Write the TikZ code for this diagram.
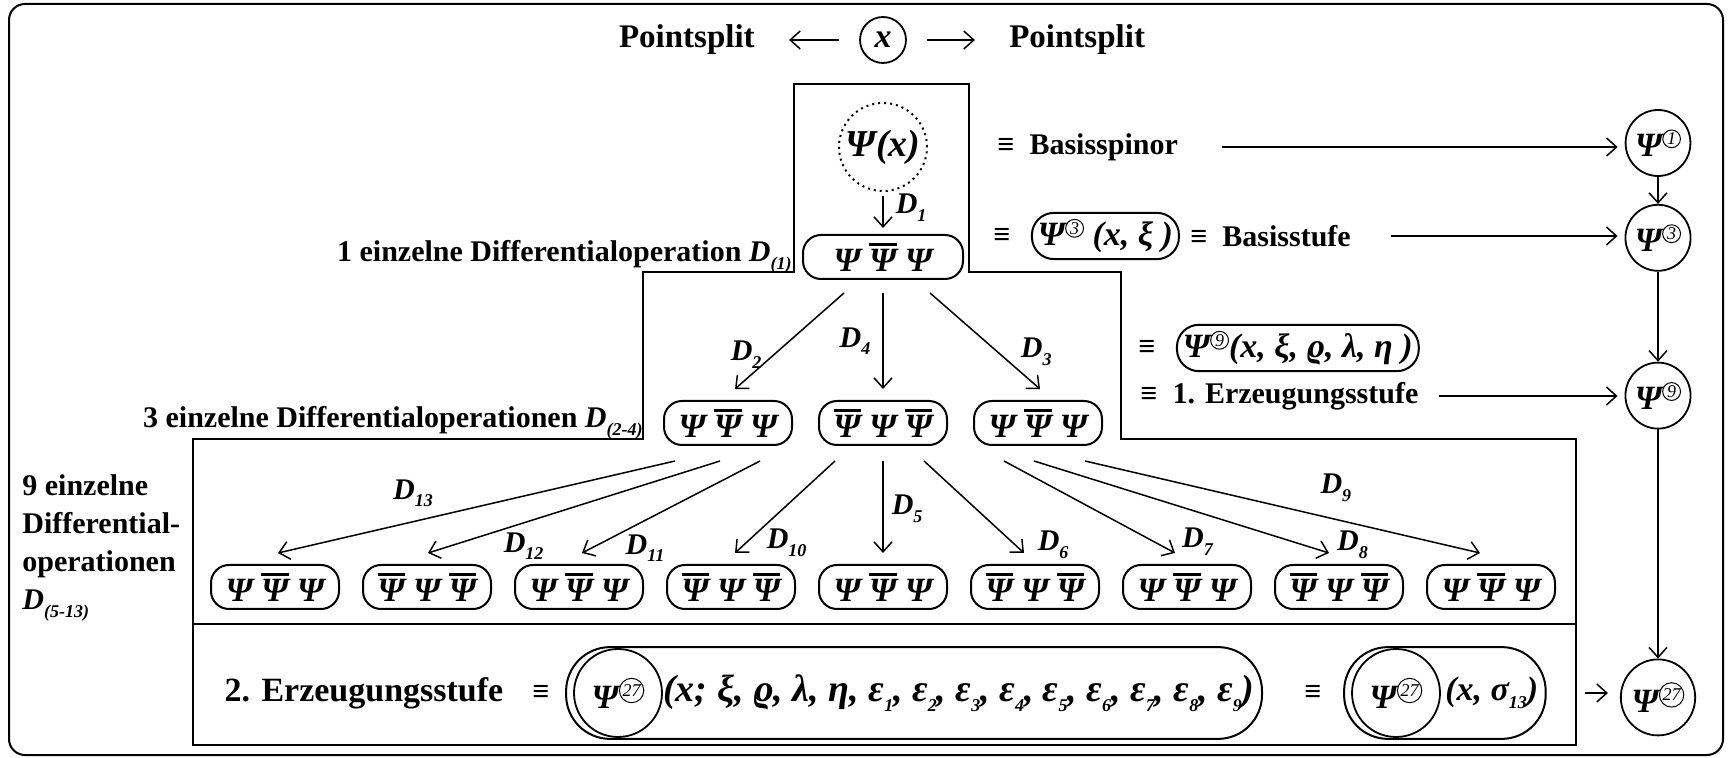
\documentclass[tikz,border=0pt]{standalone}
\usepackage{fontspec}
\setmainfont{Liberation Serif}
\usepackage{tikz}
\usetikzlibrary{shapes.geometric, arrows.meta, positioning, fit}

\newcommand{\bfit}{\bfseries\itshape}
\newcommand{\lowsub}[1]{\raisebox{-0.55ex}{\fontsize{9}{9}\selectfont #1}}
\newcommand{\psibar}{\vbox{\hrule height 1.8pt\kern 1.2pt\hbox{Ψ}}}
\newcommand{\cnum}[1]{\raisebox{0.75ex}{\tikz[baseline=(cn.base)] \node[circle, draw, solid, line width=0.5pt, inner sep=0.5pt, minimum size=0pt, anchor=center, font=\fontsize{9}{9}\selectfont\itshape\mdseries] (cn) {#1};}}

\tikzset{
    % Boxes, circles and texts
    psibox/.style = {rectangle, rounded corners=9pt, draw, line width=1pt, minimum width=64pt, minimum height=22pt, inner sep=1pt, font=\fontsize{17}{17}\selectfont\bfit},
    stufe/.style = {ellipse, draw, line width=0.9pt, minimum width=29pt, minimum height=33pt, inner sep=0pt, font=\fontsize{17}{17}\selectfont\bfit},
    formbox/.style = {rectangle, rounded corners=11pt, draw, line width=1pt, minimum height=21pt, inner sep=3pt, font=\fontsize{17}{17}\selectfont\bfit},
    dtag/.style = {font=\fontsize{15}{15}\selectfont\bfit, inner sep=1pt},
    txt/.style = {font=\fontsize{15}{19}\selectfont\bfseries, inner sep=0pt},
    arrow/.style = {line width=0.75pt, -{Straight Barb[length=5pt, width=9pt]}},
    stepframe/.style = {line width=1pt}
}

\begin{document}
\begin{tikzpicture}[x=0.5pt, y=-0.5pt]
\useasboundingbox (0,0) rectangle (1730,758);

% Frames
\draw[line width=1pt, rounded corners=8pt] (9,4) rectangle (1723,755);
\draw[stepframe] (193,745) -- (193,439) -- (643,439) -- (643,272) -- (794,272) -- (794,84) -- (969,84) -- (969,272) -- (1121,272) -- (1121,439) -- (1576,439) -- (1576,745) -- cycle;
\draw[stepframe] (193,624) -- (1576,624);

% Pointsplit
\node[circle, draw, line width=0.9pt, minimum size=23pt, inner sep=0pt, font=\fontsize{17}{17}\selectfont\bfit] (xpt) at (883,40) {x};
\node[txt, font=\fontsize{16.5}{18}\selectfont\bfseries, left=52pt of xpt] (splitL) {Pointsplit};
\node[txt, font=\fontsize{16.5}{18}\selectfont\bfseries, right=51pt of xpt] (splitR) {Pointsplit};

% Nodes
\node[circle, draw, dotted, line width=1pt, minimum size=44pt, inner sep=0pt, font=\fontsize{19}{19}\selectfont\bfit] (psix) at (883,147) {Ψ(x)};
\node[psibox, minimum width=80pt, below=21pt of psix] (lvl1) {Ψ \psibar\ Ψ};
\node[txt, left=5pt of lvl1] (txt1) {1 einzelne Differentialoperation {\bfit D\lowsub{(1)}}};

\node[psibox, below=60pt of lvl1] (lvl2b) {\psibar\ Ψ \psibar};
\node[psibox, left=12.5pt of lvl2b] (lvl2a) {Ψ \psibar\ Ψ};
\node[psibox, right=12.5pt of lvl2b] (lvl2c) {Ψ \psibar\ Ψ};
\node[txt, left=10pt of lvl2a] (txt2) {3 einzelne Differentialoperationen {\bfit D\lowsub{(2-4)}}};

\node[psibox, below=59pt of lvl2b] (lvl3e) {Ψ \psibar\ Ψ};
\node[psibox, left=11pt of lvl3e] (lvl3d) {\psibar\ Ψ \psibar};
\node[psibox, left=11pt of lvl3d] (lvl3c) {Ψ \psibar\ Ψ};
\node[psibox, left=11pt of lvl3c] (lvl3b) {\psibar\ Ψ \psibar};
\node[psibox, left=11pt of lvl3b] (lvl3a) {Ψ \psibar\ Ψ};
\node[psibox, right=11pt of lvl3e] (lvl3f) {\psibar\ Ψ \psibar};
\node[psibox, right=11pt of lvl3f] (lvl3g) {Ψ \psibar\ Ψ};
\node[psibox, right=11pt of lvl3g] (lvl3h) {\psibar\ Ψ \psibar};
\node[psibox, right=11pt of lvl3h] (lvl3i) {Ψ \psibar\ Ψ};
\node[txt, align=left, anchor=west] (txt3) at (22,548) {9 einzelne\\Differential-\\operationen\\{\bfit D\lowsub{(5-13)}}};

% Right column
\node[stufe] (psi1) at (1658,143) {Ψ\cnum{1}};
\node[stufe, below=13.5pt of psi1] (psi3) {Ψ\cnum{3}};
\node[stufe, below=45pt of psi3] (psi9) {Ψ\cnum{9}};
\node[stufe, minimum height=38pt, below=114.5pt of psi9] (psi27) {Ψ\cnum{27}};

\node[txt, right=34.5pt of psix] (basisspinor) {≡\ \ Basisspinor};
\node[txt] (eq3) at (1002,236) {≡};
\node[formbox, right=10pt of eq3] (form3) {Ψ\cnum{3} (x, ξ )};
\node[txt, right=5pt of form3] (basisstufe) {≡\ \ Basisstufe};
\node[txt] (eq9) at (1147,348) {≡};
\node[formbox, right=10pt of eq9] (form9) {Ψ\cnum{9}(x, ξ, ϱ, λ, η )};
\node[txt, anchor=west] (erz1) at (1140,396) {≡\ \ 1. Erzeugungsstufe};

% Bottom row
\node[txt, font=\fontsize{17}{17}\selectfont\bfseries] (erz2) at (364,693) {2. Erzeugungsstufe};
\node[txt] (eqA) at (541,693) {≡};
\node[stufe, minimum width=44pt, minimum height=44pt] (psi27a) at (618,693) {Ψ\cnum{27}};
\node[right=0pt of psi27a, inner sep=0pt, font=\fontsize{19}{19}\selectfont\bfit] (formA) {(x; ξ, ϱ, λ, η, ε\lowsub{1}, ε\lowsub{2}, ε\lowsub{3}, ε\lowsub{4}, ε\lowsub{5}, ε\lowsub{6}, ε\lowsub{7}, ε\lowsub{8}, ε\lowsub{9})};
\node[draw, line width=1pt, rounded corners=22pt, inner xsep=3.5pt, inner ysep=0.5pt, fit=(psi27a)(formA)] (boxA) {};
\node[txt] (eqB) at (1313,693) {≡};
\node[stufe, minimum width=44pt, minimum height=44pt] (psi27b) at (1396,693) {Ψ\cnum{27}};
\node[right=2pt of psi27b, inner sep=0pt, font=\fontsize{17}{17}\selectfont\bfit] (formB) {(x, σ\lowsub{13})};
\node[draw, line width=1pt, rounded corners=22pt, inner xsep=3.5pt, inner ysep=0.5pt, fit=(psi27b)(formB)] (boxB) {};

% Arrows
\draw[arrow, shorten <=10pt, shorten >=17pt] (xpt) -- (splitL);
\draw[arrow, shorten <=10pt, shorten >=17pt] (xpt) -- (splitR);
\draw[arrow, shorten <=2pt, shorten >=3pt] (psix) -- node[dtag, right=5pt, pos=0.37] (tD1) {D\lowsub{1}} (lvl1);

\draw[arrow] ([xshift=-19.5pt, yshift=-6.5pt]lvl1.south) -- node[dtag, left=5pt, pos=0.64] (tD2) {D\lowsub{2}} ([xshift=3.5pt, yshift=5.5pt]lvl2a.north);
\draw[arrow] ([yshift=-6.5pt]lvl1.south) -- node[dtag, left=5pt, pos=0.5] (tD4) {D\lowsub{4}} ([yshift=5.5pt]lvl2b.north);
\draw[arrow] ([xshift=23.5pt, yshift=-6.5pt]lvl1.south) -- node[dtag, right=10.5pt, pos=0.61] (tD3) {D\lowsub{3}} ([xshift=1pt, yshift=5.5pt]lvl2c.north);

\draw[arrow] ([xshift=-26.5pt, yshift=-7.5pt]lvl2a.south) -- node[dtag, above=6pt, pos=0.66] (tD13) {D\lowsub{13}} ([xshift=1.5pt, yshift=5.5pt]lvl3a.north);
\draw[arrow] ([xshift=-4pt, yshift=-7.5pt]lvl2a.south) -- node[dtag, below right, pos=0.75] (tD12) {D\lowsub{12}} ([xshift=0.5pt, yshift=5.5pt]lvl3b.north);
\draw[arrow] ([xshift=16pt, yshift=-7.5pt]lvl2a.south) -- node[dtag, below right, pos=0.77] (tD11) {D\lowsub{11}} ([xshift=1.5pt, yshift=5.5pt]lvl3c.north);
\draw[arrow] ([xshift=-24pt, yshift=-7.5pt]lvl2b.south) -- node[dtag, below right, pos=0.71] (tD10) {D\lowsub{10}} ([xshift=2pt, yshift=5.5pt]lvl3d.north);
\draw[arrow] ([yshift=-7.5pt]lvl2b.south) -- node[dtag, right=3pt, pos=0.52] (tD5) {D\lowsub{5}} ([yshift=5.5pt]lvl3e.north);
\draw[arrow] ([xshift=20.5pt, yshift=-7.5pt]lvl2b.south) -- node[dtag, right=10pt, pos=0.91] (tD6) {D\lowsub{6}} ([xshift=-5.5pt, yshift=5.5pt]lvl3f.north);
\draw[arrow] ([xshift=-17pt, yshift=-7.5pt]lvl2c.south) -- node[dtag, right=12.5pt, pos=0.88] (tD7) {D\lowsub{7}} ([xshift=-6pt, yshift=5.5pt]lvl3g.north);
\draw[arrow] ([xshift=-2pt, yshift=-7.5pt]lvl2c.south) -- node[dtag, right=16pt, pos=0.91] (tD8) {D\lowsub{8}} ([xshift=-5pt, yshift=5.5pt]lvl3h.north);
\draw[arrow] ([xshift=23.5pt, yshift=-7.5pt]lvl2c.south) -- node[dtag, above=7.5pt, pos=0.635] (tD9) {D\lowsub{9}} ([xshift=-5.5pt, yshift=5.5pt]lvl3i.north);

\draw[arrow, shorten <=22pt, shorten >=3.5pt] (basisspinor.east) -- (basisspinor.east -| psi1.west);
\draw[arrow, shorten <=20pt, shorten >=3.5pt] (basisstufe.east) -- (basisstufe.east -| psi3.west);
\draw[arrow, shorten <=10pt, shorten >=3.5pt] (erz1.east) -- (erz1.east -| psi9.west);
\draw[arrow] (psi1) -- (psi3);
\draw[arrow] (psi3) -- (psi9);
\draw[arrow] (psi9) -- (psi27);
\draw[arrow, shorten <=19pt, shorten >=6pt] (boxB.east) -- (boxB.east -| psi27.west);

\end{tikzpicture}
\end{document}
